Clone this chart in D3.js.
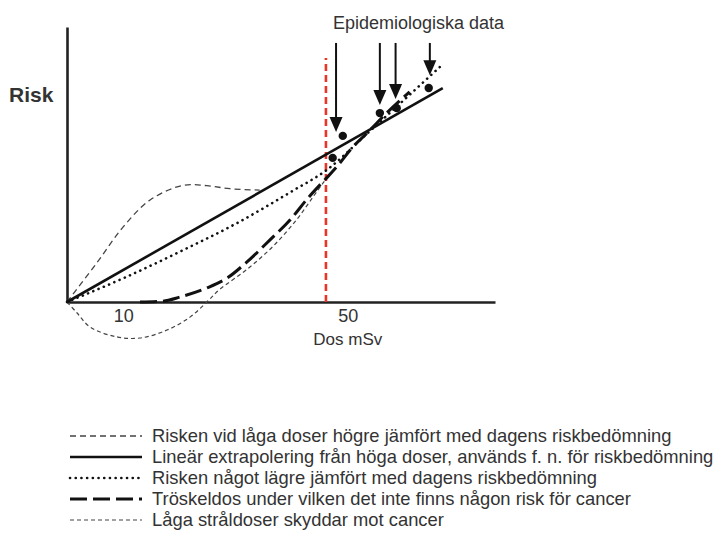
<!DOCTYPE html>
<html><head><meta charset="utf-8">
<script src="https://cdn.jsdelivr.net/npm/d3@7"></script>
<style>
html,body{margin:0;padding:0;background:#fff;}
text{font-family:"Liberation Sans",Arial,sans-serif;fill:#333;}
</style></head>
<body>
<svg id="c" width="720" height="541"></svg>
<script>
// ---- data (dose in mSv, risk in arbitrary units) ----
const xTicks = [10, 50];
const xLabel = "Dos mSv";
const yLabel = "Risk";
const annotation = "Epidemiologiska data";
const thresholdLineDose = 46.1;
const thresholdLineTop = 88.7;

const linearDose = [0, 66.9];
const linearRisk = [0, 77.8];

const supraDose = [0, 5.3, 10, 14.8, 20.6, 24.9, 29, 34.3];
const supraRisk = [0, 14.2, 27.3, 37.1, 42.4, 42.3, 41.2, 40.7];

const subDose = [0, 10, 20, 30, 40, 46.1, 54, 66.4];
const subRisk = [0, 8.6, 18.2, 28.4, 40.2, 47.8, 62.3, 85.5];

const threshDose = [13, 17, 20.1, 24.9, 28.5, 32.0, 36.1, 39.7, 42.9, 45.0, 46.4, 48.0, 50.9, 53.6, 56.9, 61.0];
const threshRisk = [0, 0.3, 1.8, 5.1, 8.7, 14.5, 22.5, 29.8, 37.8, 42.5, 45.5, 49.1, 56.4, 61.8, 68.7, 76.4];

const hormDose = [0, 1.8, 4.1, 8.9, 13, 17.8, 21.9, 24.9, 27.2, 32, 36.7, 40.9, 43.8, 45.6, 46.8];
const hormRisk = [0, -4, -9.1, -12.7, -13.1, -10.2, -5.5, 0, 4.6, 11.8, 20.3, 30.0, 38.2, 43.3, 46.5];

const pointDose = [47.3, 49.1, 55.7, 58.7, 64.4];
const pointRisk = [52.4, 60.4, 68.7, 70.5, 77.8];

const arrowDose = [47.9, 55.7, 58.5, 64.6];
const arrowTipRisk = [61.8, 71.6, 73.8, 82.5];
const arrowTopRisk = 94.2;

const legendLabels = [
  "Risken vid låga doser högre jämfört med dagens riskbedömning",
  "Lineär extrapolering från höga doser, används f. n. för riskbedömning",
  "Risken något lägre jämfört med dagens riskbedömning",
  "Tröskeldos under vilken det inte finns någon risk för cancer",
  "Låga stråldoser skyddar mot cancer"
];

// ---- styles ----
const styles = [
  {stroke:"#444", width:1.3, dash:"6,4", cap:"butt"},
  {stroke:"#111", width:2.6, dash:null, cap:"butt"},
  {stroke:"#111", width:2.6, dash:"0.1,5.6", cap:"round"},
  {stroke:"#111", width:3, dash:"17,6", cap:"butt"},
  {stroke:"#444", width:1.2, dash:"4,3", cap:"butt"}
];

const svg = d3.select("#c");
const x = d3.scaleLinear().domain([0, 76.2]).range([67, 495]);
const y = d3.scaleLinear().domain([0, 100]).range([302, 27]);

// axes
const xAxis = svg.append("g").attr("transform", `translate(0,${y(0)})`)
  .call(d3.axisBottom(x).tickValues(xTicks).tickSize(0).tickPadding(7).tickSizeOuter(0));
xAxis.select(".domain").attr("stroke", "#222").attr("stroke-width", 2.6);
xAxis.selectAll("text").attr("font-size", 18).attr("fill", "#333")
  .style("font-family", '"Liberation Sans",Arial,sans-serif');

const yAxis = svg.append("g").attr("transform", `translate(${x(0)},0)`)
  .call(d3.axisLeft(y).tickValues([]).tickSizeOuter(0));
yAxis.select(".domain").attr("stroke", "#222").attr("stroke-width", 2.6);

svg.append("text").attr("x", x(50)).attr("y", 345).attr("text-anchor", "middle")
  .attr("font-size", 17).text(xLabel);
svg.append("text").attr("x", 9).attr("y", 102).attr("font-size", 21)
  .attr("font-weight", "bold").attr("fill", "#222").text(yLabel);

// red threshold line
svg.append("line")
  .attr("x1", x(thresholdLineDose)).attr("x2", x(thresholdLineDose))
  .attr("y1", y(0)).attr("y2", y(thresholdLineTop))
  .attr("stroke", "#e8352a").attr("stroke-width", 2.6).attr("stroke-dasharray", "7,4");

// curves
const lineMono = d3.line().x(d => x(d[0])).y(d => y(d[1])).curve(d3.curveMonotoneX);
const lineSmooth = d3.line().x(d => x(d[0])).y(d => y(d[1])).curve(d3.curveCatmullRom.alpha(0.5));
const series = [
  d3.zip(supraDose, supraRisk),
  d3.zip(linearDose, linearRisk),
  d3.zip(subDose, subRisk),
  d3.zip(threshDose, threshRisk),
  d3.zip(hormDose, hormRisk)
];
const gens = [lineSmooth, lineMono, lineMono, lineMono, lineSmooth];
const drawOrder = [4, 0, 3, 2, 1];
drawOrder.forEach(i => {
  const s = styles[i];
  svg.append("path").datum(series[i]).attr("d", gens[i])
    .attr("fill", "none").attr("stroke", s.stroke).attr("stroke-width", s.width)
    .attr("stroke-dasharray", s.dash).attr("stroke-linecap", s.cap);
});

// data points
svg.selectAll("circle.pt").data(d3.zip(pointDose, pointRisk)).join("circle")
  .attr("class", "pt").attr("cx", d => x(d[0])).attr("cy", d => y(d[1]))
  .attr("r", 4.2).attr("fill", "#111");

// arrows
const arrows = d3.zip(arrowDose, arrowTipRisk);
const headH = 15, headW = 6.5;
svg.selectAll("line.arr").data(arrows).join("line").attr("class", "arr")
  .attr("x1", d => x(d[0])).attr("x2", d => x(d[0]))
  .attr("y1", y(arrowTopRisk)).attr("y2", d => y(d[1]) - headH + 1)
  .attr("stroke", "#111").attr("stroke-width", 2);
svg.selectAll("path.head").data(arrows).join("path").attr("class", "head")
  .attr("d", d => {
    const tx = x(d[0]), ty = y(d[1]);
    return `M${tx},${ty}L${tx - headW},${ty - headH}L${tx + headW},${ty - headH}Z`;
  }).attr("fill", "#111");

svg.append("text").attr("x", 333).attr("y", 29).attr("font-size", 18).text(annotation);

// legend
const lg = svg.append("g");
const rowY = [436, 457, 478, 499, 520];
legendLabels.forEach((lab, i) => {
  const s = styles[i];
  lg.append("line").attr("x1", 70).attr("x2", 142).attr("y1", rowY[i]).attr("y2", rowY[i])
    .attr("stroke", s.stroke).attr("stroke-width", s.width)
    .attr("stroke-dasharray", s.dash).attr("stroke-linecap", s.cap);
  lg.append("text").attr("class", "lt").attr("x", 152).attr("y", rowY[i] + 6)
    .attr("font-size", 17).text(lab);
});
// fit legend font so first row spans its width in the reference
const first = lg.select("text.lt").node();
const w = first.getComputedTextLength();
const fs = 17 * 520 / w;
lg.selectAll("text.lt").attr("font-size", fs.toFixed(2));
</script>
</body></html>
